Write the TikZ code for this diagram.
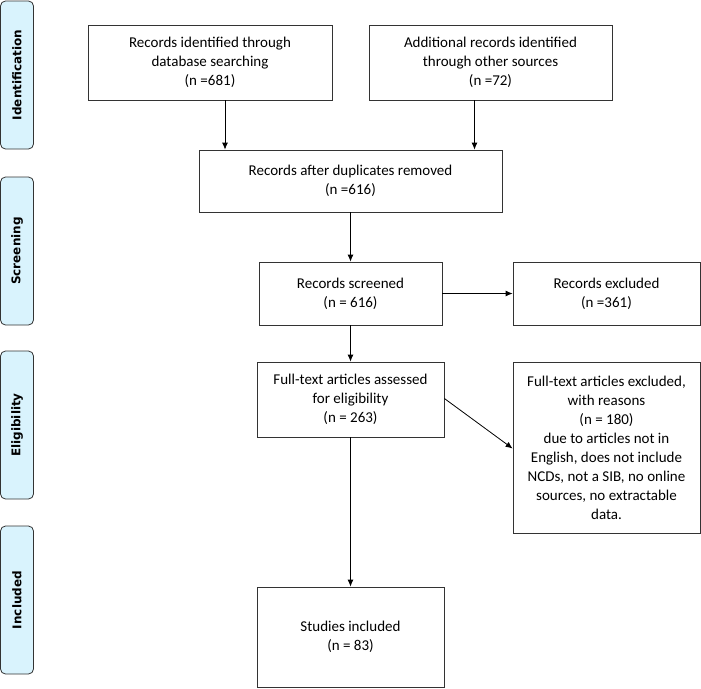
\documentclass[tikz,border=0pt]{standalone}
\usepackage{fontspec}
\setmainfont{Carlito}
\newfontfamily\labelfont{DejaVu Sans}
\usetikzlibrary{positioning, arrows.meta}

\begin{document}
\begin{tikzpicture}[x=1pt, y=-1pt,
            box/.style={rectangle, draw=black!80, thick, align=center, font=\fontsize{15}{19}\selectfont, inner sep=2pt},
            stage/.style={rectangle, rounded corners=5pt, draw=black!80, thick, fill=cyan!15, minimum width=33pt, font=\labelfont\bfseries\fontsize{12}{14}\selectfont},
            arrow/.style={-{Latex[length=7pt,width=6pt]}, thick}
        ]
\useasboundingbox (0,0) rectangle (701,688);

% Stage labels
            \node[stage, minimum height=148pt] (ident) at (17,75) {\rotatebox{90}{Identification}};
            \node[stage, minimum height=148pt] (screen) at (17,251) {\rotatebox{90}{Screening}};
            \node[stage, minimum height=148pt] (elig) at (17,425) {\rotatebox{90}{Eligibility}};
            \node[stage, minimum height=148pt] (incl) at (17,600) {\rotatebox{90}{Included}};

% Boxes
            \node[box, minimum width=244pt, minimum height=75pt] (database) at (210,62.5) {Records identified through\\database searching\\(n =681)};
            \node[box, minimum width=243pt, minimum height=75pt] (other) at (490.5,62.5) {Additional records identified\\through other sources\\(n =72)};
            \node[box, minimum width=303pt, minimum height=62pt] (dupl) at (350.5,181) {Records after duplicates removed\\(n =616)};
            \node[box, minimum width=183pt, minimum height=63pt] (screened) at (350.5,293.5) {Records screened\\(n = 616)};
            \node[box, minimum width=187pt, minimum height=63pt] (excluded) at (606.5,293.5) {Records excluded\\(n =361)};
            \node[box, minimum width=187pt, minimum height=75pt] (fulltext) at (350.5,399.5) {Full-text articles assessed\\for eligibility\\(n = 263)};
            \node[box, minimum width=187pt, minimum height=171pt] (reasons) at (606.5,447.5) {Full-text articles excluded,\\with reasons\\(n = 180)\\due to articles not in\\English, does not include\\NCDs, not a SIB, no online\\sources, no extractable\\data.};
            \node[box, minimum width=187pt, minimum height=100pt] (studies) at (350.5,637) {Studies included\\(n = 83)};

% Arrows
            \draw[arrow] ([xshift=15pt]database.south) -- ([xshift=15pt]database.south |- dupl.north);
            \draw[arrow] ([xshift=-16pt]other.south) -- ([xshift=-16pt]other.south |- dupl.north);
            \draw[arrow] (dupl) -- (screened);
            \draw[arrow] (screened) -- (excluded);
            \draw[arrow] (screened) -- (fulltext);
            \draw[arrow] ([yshift=1pt]fulltext.east) -- ([yshift=-1pt]reasons.west);
            \draw[arrow] (fulltext) -- (studies);

        \end{tikzpicture}
\end{document}
